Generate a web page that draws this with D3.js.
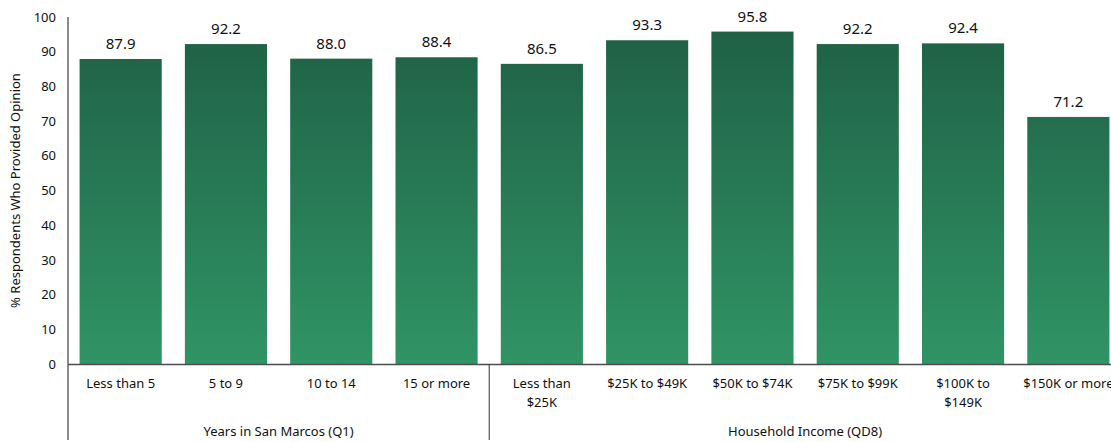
<!DOCTYPE html>
<html>
<head>
<meta charset="utf-8">
<script src="https://cdn.jsdelivr.net/npm/d3@7"></script>
<style>
  html, body { margin: 0; padding: 0; background: #fff; }
  svg { display: block; }
  text { font-family: "Noto Sans", "DejaVu Sans", sans-serif; fill: #111; }
</style>
</head>
<body>
<svg id="chart" width="1111" height="442"></svg>
<script>
// Categories (line breaks marked with \n), group spans and values
const categories = ["Less than 5", "5 to 9", "10 to 14", "15 or more",
  "Less than\n$25K", "$25K to $49K", "$50K to $74K", "$75K to $99K", "$100K to\n$149K", "$150K or more"];
const values = [87.9, 92.2, 88.0, 88.4, 86.5, 93.3, 95.8, 92.2, 92.4, 71.2];
const groups = ["Years in San Marcos (Q1)", "Household Income (QD8)"];
const groupSizes = [4, 6];
const yTicks = [0, 10, 20, 30, 40, 50, 60, 70, 80, 90, 100];
const yTitle = "% Respondents Who Provided Opinion";

const svg = d3.select("#chart");
const left = 68, baseY = 364, topY = 17;
const step = 105.3;

const x = d3.scaleBand()
  .domain(d3.range(categories.length))
  .range([left, left + step * categories.length])
  .paddingInner(0.22)
  .paddingOuter(0.11);

const y = d3.scaleLinear().domain([0, 100]).range([baseY, topY]);

// Vertical gradient for the bars
const defs = svg.append("defs");
const grad = defs.append("linearGradient")
  .attr("id", "barGrad")
  .attr("gradientUnits", "userSpaceOnUse")
  .attr("x1", 0).attr("x2", 0)
  .attr("y1", y(95)).attr("y2", y(0));
grad.append("stop").attr("offset", "0%").attr("stop-color", "#1f6146");
grad.append("stop").attr("offset", "100%").attr("stop-color", "#309465");

// Bars
svg.append("g").selectAll("rect")
  .data(values)
  .join("rect")
  .attr("x", (d, i) => x(i))
  .attr("width", x.bandwidth())
  .attr("y", d => y(d))
  .attr("height", d => y(0) - y(d))
  .attr("fill", "url(#barGrad)");

// Value labels
svg.append("g").selectAll("text")
  .data(values)
  .join("text")
  .attr("x", (d, i) => x(i) + x.bandwidth() / 2)
  .attr("y", d => y(d) - 10)
  .attr("text-anchor", "middle")
  .attr("font-size", 15)
  .text(d => d.toFixed(1));

// Y axis
const yAxis = d3.axisLeft(y).tickValues(yTicks).tickSize(0).tickPadding(12);
const yg = svg.append("g").attr("transform", `translate(${left},0)`).call(yAxis);
yg.select(".domain").remove();
yg.selectAll("text").attr("font-size", 13).attr("fill", "#111")
  .style("font-family", "'Noto Sans', 'DejaVu Sans', sans-serif");

// Axis line (extends down through the category label area)
svg.append("line")
  .attr("x1", left).attr("x2", left)
  .attr("y1", topY).attr("y2", 440)
  .attr("stroke", "#8a8a8a").attr("stroke-width", 2);

// Baseline
svg.append("line")
  .attr("x1", left).attr("x2", 1111)
  .attr("y1", baseY + 0.5).attr("y2", baseY + 0.5)
  .attr("stroke", "#4d4d4d").attr("stroke-width", 1.5);

// Y axis title
svg.append("text")
  .attr("transform", `translate(20,${(topY + baseY) / 2}) rotate(-90)`)
  .attr("text-anchor", "middle")
  .attr("font-size", 13)
  .text(yTitle);

// Category labels
const cat = svg.append("g").selectAll("text")
  .data(categories)
  .join("text")
  .attr("x", (d, i) => x(i) + x.bandwidth() / 2)
  .attr("y", 388)
  .attr("text-anchor", "middle")
  .attr("font-size", 13);
cat.each(function(d) {
  const lines = d.split("\n");
  d3.select(this).selectAll("tspan")
    .data(lines)
    .join("tspan")
    .attr("x", d3.select(this).attr("x"))
    .attr("dy", (l, j) => j === 0 ? 0 : 19)
    .text(l => l);
});

// Group dividers and labels
let start = 0;
groupSizes.forEach((n, gi) => {
  const x0 = gi === 0 ? left : x(start) - x.step() * x.paddingInner() / 2;
  const end = start + n;
  const x1 = end < categories.length ? x(end) - x.step() * x.paddingInner() / 2 : 1111 + (left + step * categories.length - 1111);
  if (gi > 0) {
    svg.append("line")
      .attr("x1", x0).attr("x2", x0)
      .attr("y1", baseY).attr("y2", 440)
      .attr("stroke", "#333").attr("stroke-width", 1);
  }
  const cx = gi === 0 ? (x0 + x1) / 2 : (x(start) + x(end - 1) + x.bandwidth()) / 2;
  svg.append("text")
    .attr("x", cx)
    .attr("y", 436)
    .attr("text-anchor", "middle")
    .attr("font-size", 13)
    .text(groups[gi]);
  start = end;
});
</script>
</body>
</html>
